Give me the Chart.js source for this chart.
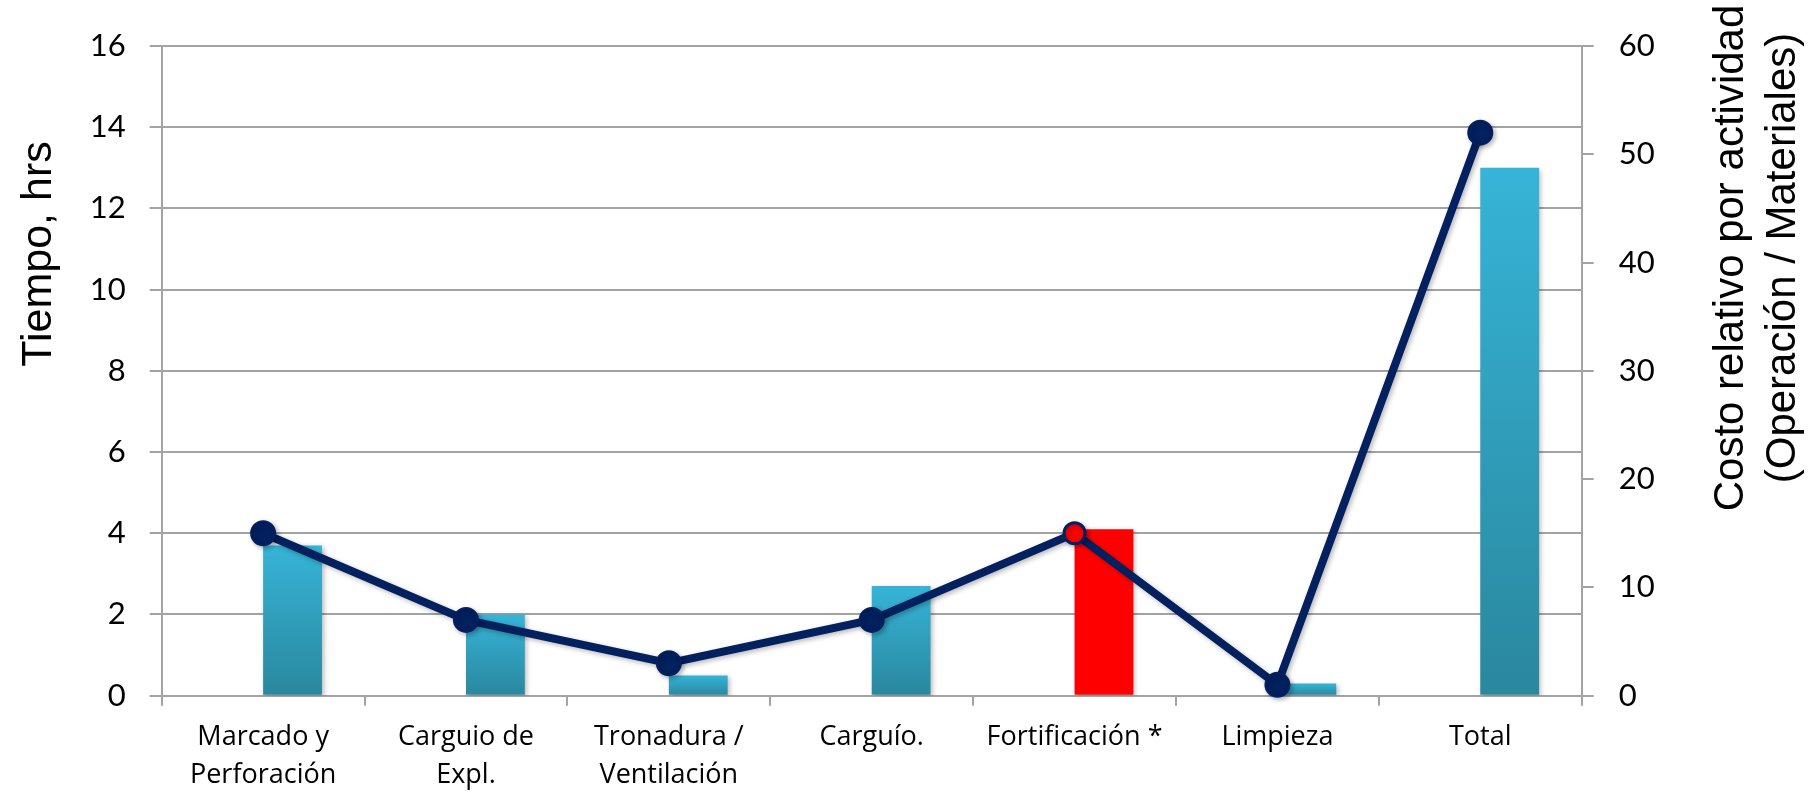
<!DOCTYPE html>
<html>
<head>
<meta charset="utf-8">
<script src="https://cdn.jsdelivr.net/npm/chart.js@4.4.1/dist/chart.umd.min.js"></script>
<style>
  html, body { margin: 0; padding: 0; background: #ffffff; }
  #wrap { width: 1810px; height: 794px; }
</style>
</head>
<body>
<div id="wrap"><canvas id="grafico" width="1810" height="794"></canvas></div>
<script>
// Actividades del ciclo
var categorias = [
  ['Marcado y', 'Perforación'],
  ['Carguio de', 'Expl.'],
  ['Tronadura /', 'Ventilación'],
  'Carguío.',
  'Fortificación *',
  'Limpieza',
  'Total'
];
// Tiempo por actividad (hrs), eje izquierdo
var tiempoHrs = [3.7, 2.0, 0.5, 2.7, 4.1, 0.3, 13.0];
// Costo relativo (Operación / Materiales), eje derecho
var costoRelativo = [15, 7, 3, 7, 15, 1, 52];
var sinDatos = [null, null, null, null, null, null, null];

var tituloIzq = 'Tiempo, hrs';
var tituloDer = ['Costo relativo por actividad', '(Operación / Materiales)'];

var idxFortificacion = 4;
var azul = '#03205F';
var gris = '#A3A3A3';

function rellenoBarra(c) {
  if (c.dataIndex === idxFortificacion) return '#FF0000';
  var chart = c.chart;
  var ys = chart.scales.y;
  var v = c.raw;
  if (!ys || v == null) return '#33AFD2';
  var top = ys.getPixelForValue(v);
  var base = ys.getPixelForValue(0);
  if (!isFinite(top) || !isFinite(base) || base - top < 1) return '#33AFD2';
  var g = chart.ctx.createLinearGradient(0, top, 0, base);
  g.addColorStop(0, '#36B4D7');
  g.addColorStop(1, '#2A879E');
  return g;
}

// sombra suave bajo barras y linea
var sombra = {
  id: 'sombra',
  beforeDatasetDraw: function (chart) {
    var ctx = chart.ctx;
    ctx.save();
    ctx.shadowColor = 'rgba(0,0,0,0.28)';
    ctx.shadowBlur = 5;
    ctx.shadowOffsetX = 2;
    ctx.shadowOffsetY = 2;
  },
  afterDatasetDraw: function (chart) {
    chart.ctx.restore();
  }
};

// titulos de los ejes, girados
var titulos = {
  id: 'titulos',
  afterDraw: function (chart) {
    var ctx = chart.ctx;
    ctx.save();
    ctx.fillStyle = '#000000';
    ctx.font = '43px "Liberation Sans", Arial, sans-serif';
    ctx.textAlign = 'center';
    ctx.textBaseline = 'alphabetic';

    ctx.save();
    ctx.translate(51, 254);
    ctx.rotate(-Math.PI / 2);
    ctx.fillText(tituloIzq, 0, 0);
    ctx.restore();

    ctx.font = '42px "Liberation Sans", Arial, sans-serif';
    var xs = [1743, 1795];
    tituloDer.forEach(function (linea, i) {
      ctx.save();
      ctx.translate(xs[i], 258);
      ctx.rotate(-Math.PI / 2);
      ctx.fillText(linea, 0, 0);
      ctx.restore();
    });
    ctx.restore();
  }
};

var fuenteTicks = { family: 'Lato, "Open Sans", sans-serif', size: 31 };
var fuenteCat = { family: '"Open Sans", Lato, sans-serif', size: 27, lineHeight: 1.4 };

new Chart(document.getElementById('grafico'), {
  type: 'bar',
  data: {
    labels: categorias,
    datasets: [
      {
        type: 'line',
        label: 'Costo relativo',
        data: costoRelativo,
        yAxisID: 'y2',
        order: 0,
        borderColor: azul,
        borderWidth: 8,
        tension: 0,
        clip: false,
        pointRadius: [12, 12, 12, 12, 10.5, 12, 12],
        pointBorderWidth: [2, 2, 2, 2, 3, 2, 2],
        pointBackgroundColor: costoRelativo.map(function (v, i) { return i === idxFortificacion ? '#FF0000' : azul; }),
        pointBorderColor: azul
      },
      {
        label: '',
        data: sinDatos,
        yAxisID: 'y',
        order: 1,
        backgroundColor: 'rgba(0,0,0,0)'
      },
      {
        label: 'Tiempo',
        data: tiempoHrs,
        yAxisID: 'y',
        order: 1,
        backgroundColor: rellenoBarra
      }
    ]
  },
  options: {
    responsive: false,
    animation: false,
    categoryPercentage: 0.58,
    barPercentage: 1.0,
    layout: { padding: { top: 46, left: 0, right: 0, bottom: 0 } },
    plugins: {
      legend: { display: false },
      tooltip: { enabled: false }
    },
    scales: {
      x: {
        offset: true,
        grid: {
          offset: true,
          drawOnChartArea: false,
          drawTicks: true,
          tickLength: 10,
          color: gris,
          lineWidth: 2
        },
        border: { display: false },
        ticks: {
          color: '#000000',
          font: fuenteCat,
          padding: 13,
          maxRotation: 0,
          autoSkip: false
        },
        afterFit: function (s) { s.height = 98.3; }
      },
      y: {
        position: 'left',
        min: 0,
        max: 16,
        ticks: {
          stepSize: 2,
          color: '#000000',
          font: fuenteTicks,
          padding: 24
        },
        grid: {
          color: gris,
          lineWidth: 2,
          tickLength: 12
        },
        border: { display: true, color: gris, width: 2 },
        afterFit: function (s) { s.width = 161.7; }
      },
      y2: {
        position: 'right',
        min: 0,
        max: 60,
        ticks: {
          stepSize: 10,
          color: '#000000',
          font: fuenteTicks,
          padding: 25
        },
        grid: {
          drawOnChartArea: false,
          color: gris,
          lineWidth: 2,
          tickLength: 12
        },
        border: { display: true, color: gris, width: 2 },
        afterFit: function (s) { s.width = 228.3; }
      }
    }
  },
  plugins: [sombra, titulos]
});
</script>
</body>
</html>
